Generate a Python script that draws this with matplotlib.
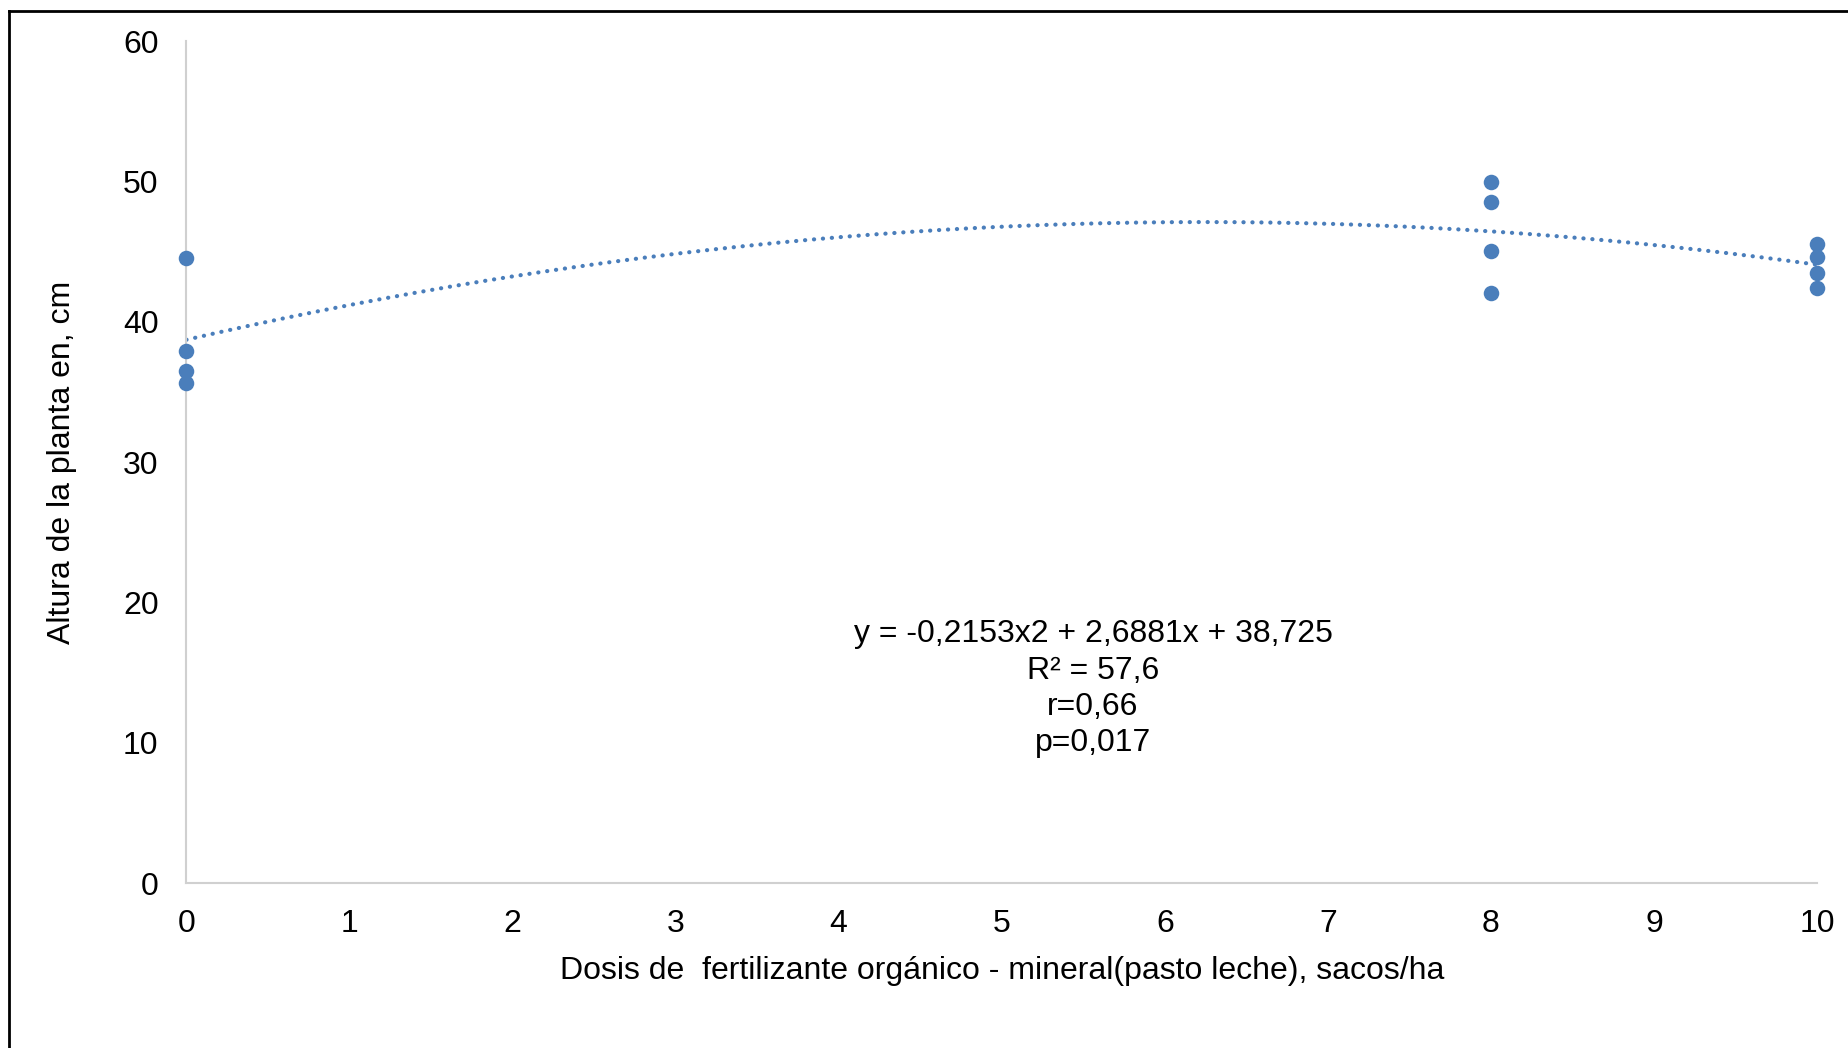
import numpy as np
import matplotlib
matplotlib.use("Agg")
import matplotlib.pyplot as plt
from matplotlib.lines import Line2D

plt.rcParams["font.family"] = ["Liberation Sans", "DejaVu Sans"]

# observed data
dosis = [0, 0, 0, 0, 8, 8, 8, 8, 10, 10, 10, 10]
altura = [44.57, 37.94, 36.52, 35.62,
          49.94, 48.54, 45.07, 42.03,
          45.54, 44.64, 43.50, 42.39]

# polynomial trendline coefficients (as printed on the chart)
coef = [-0.2153, 2.6881, 38.725]
stats_text = "y = -0,2153x2 + 2,6881x + 38,725\nR² = 57,6\nr=0,66\np=0,017"

xticks = list(range(0, 11))
yticks = [0, 10, 20, 30, 40, 50, 60]

blue = "#4a7ebb"
fs = 23

fig = plt.figure(figsize=(18.49, 10.48), dpi=100)
ax = fig.add_axes([0.1008, 0.1574, 0.8819, 0.8032])

xs = np.linspace(0, 10, 200)
ax.plot(xs, np.polyval(coef, xs), color=blue, linewidth=3.0,
        linestyle=(0, (0.05, 2.1)), dash_capstyle="round", zorder=2)
ax.scatter(dosis, altura, s=125, color=blue, zorder=3, clip_on=False,
           linewidths=0)

ax.set_xlim(0, 10)
ax.set_ylim(0, 60)
ax.set_xticks(xticks)
ax.set_yticks(yticks)
ax.tick_params(axis="both", length=0, labelsize=fs)
ax.tick_params(axis="y", pad=20)
ax.tick_params(axis="x", pad=19)

for side in ["top", "right"]:
    ax.spines[side].set_visible(False)
for side in ["left", "bottom"]:
    ax.spines[side].set_color("#d0d0d0")
    ax.spines[side].set_linewidth(1.5)

ax.set_xlabel("Dosis de  fertilizante orgánico - mineral(pasto leche), sacos/ha",
              fontsize=fs, labelpad=12)
ax.set_ylabel("Altura de la planta en, cm", fontsize=fs, labelpad=33)

ax.text(5.56, 13.85, stats_text, fontsize=fs, ha="center", va="center",
        multialignment="center", linespacing=1.27)

# outer frame (top and left only visible)
fig.add_artist(Line2D([0.0046, 1.0], [0.9895, 0.9895], color="black",
                      linewidth=2, transform=fig.transFigure))
fig.add_artist(Line2D([0.0046, 0.0046], [0.0, 0.9895], color="black",
                      linewidth=2, transform=fig.transFigure))

fig.savefig("out.png", dpi=100, facecolor="white")
